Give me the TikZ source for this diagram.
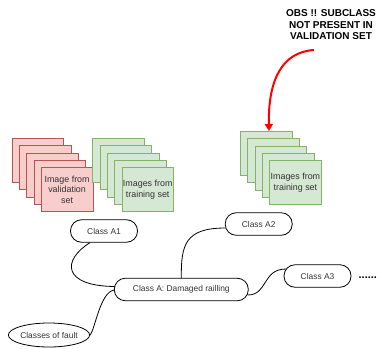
\documentclass[tikz,border=0pt]{standalone}
\usepackage{fontspec}
\setmainfont{Liberation Sans}
\usetikzlibrary{calc,shapes.geometric,arrows.meta}
\definecolor{redfill}{HTML}{F8CECC}
\definecolor{redline}{HTML}{B85450}
\definecolor{greenfill}{HTML}{D5E8D4}
\definecolor{greenline}{HTML}{82B366}
\definecolor{arrowred}{HTML}{FF0000}
\tikzset{
  redcard/.style={draw=redline, fill=redfill, line width=0.8pt, minimum width=51.6pt, minimum height=44pt, inner sep=0pt, anchor=north west},
  greencard/.style={draw=greenline, fill=greenfill, line width=0.8pt, minimum width=51.6pt, minimum height=44pt, inner sep=0pt, anchor=north west},
  cardtext/.style={font=\fontsize{8.9}{10.4}\selectfont, align=center, text=black!80},
  pill/.style={draw=black, line width=0.8pt, rounded corners=11pt, minimum height=22.5pt, inner sep=0pt, font=\fontsize{8.4}{10}\selectfont, text=black!80},
  root/.style={draw=black, ellipse, line width=0.8pt, minimum width=75pt, minimum height=24pt, inner sep=0pt, font=\fontsize{8.4}{10}\selectfont, text=black!80},
  link/.style={draw=black, line width=0.8pt},
  note/.style={font=\bfseries\fontsize{10}{11.5}\selectfont, align=center}
}
\begin{document}
\begin{tikzpicture}[x=1pt,y=-1pt]
\useasboundingbox (0,0) rectangle (379,348);
% red stack
\node[redcard] (r1) at (11.7,138) {};
\node[redcard] (r2) at (19,145.3) {};
\node[redcard] (r3) at (26.3,152.6) {};
\node[redcard] (r4) at (33.6,159.9) {};
\node[redcard] (r5) at (40.9,167.2) {};
\node[cardtext] (rt) at (r5.center) {Image from\\validation\\set};
% green stack (left)
\node[greencard] (g1) at (92.3,138) {};
\node[greencard] (g2) at (99.6,145.3) {};
\node[greencard] (g3) at (106.9,152.6) {};
\node[greencard] (g4) at (114.2,159.9) {};
\node[greencard] (g5) at (121.5,167.2) {};
\node[cardtext] (gt) at (g5.center) {Images from\\training set};
% green stack (right)
\node[greencard] (h1) at (240,131) {};
\node[greencard] (h2) at (247.3,138.3) {};
\node[greencard] (h3) at (254.6,145.6) {};
\node[greencard] (h4) at (261.9,152.9) {};
\node[greencard] (h5) at (269.2,160.2) {};
\node[cardtext] (ht) at (h5.center) {Images from\\training set};
% note
\node[note] (obs) at (331,25) {OBS !! SUBCLASS\\NOT PRESENT IN\\VALIDATION SET};
\coordinate (arrstart) at (314,50);
\draw[draw=arrowred, line width=2pt, -{Triangle[length=7pt,width=8pt]}] (arrstart) .. controls (282,52) and (268,80) .. (h1.north -| 269,0);
% mind map
\node[pill, minimum width=67pt] (A1) at (104,231) {Class A1};
\node[pill, minimum width=67pt] (A2) at (258.7,224) {Class A2};
\node[pill, minimum width=134pt] (CA) at (181.3,289.5) {Class A: Damaged railling};
\node[pill, minimum width=67pt] (A3) at (317.5,276) {Class A3};
\node[root] (F) at (49,335) {Classes of fault};
\node[font=\bfseries\fontsize{11}{12}\selectfont, inner sep=0pt] (dots) at (367.8,278) {......};
\draw[link] ($(A1.south)+(-14,0)$) .. controls (62,260) and (62,286) .. ($(CA.west)+(1,-3)$);
\draw[link] ($(A2.west)+(0.5,4)$) .. controls (185,228) and (181,245) .. (CA.north);
\draw[link] ($(CA.east)+(-1,5.5)$) .. controls (268,295) and (262,269) .. ($(A3.west)+(2.5,-7)$);
\draw[link] (F.east) .. controls (95,330) and (100,292) .. ($(CA.west)+(0.3,0.5)$);
\end{tikzpicture}
\end{document}
